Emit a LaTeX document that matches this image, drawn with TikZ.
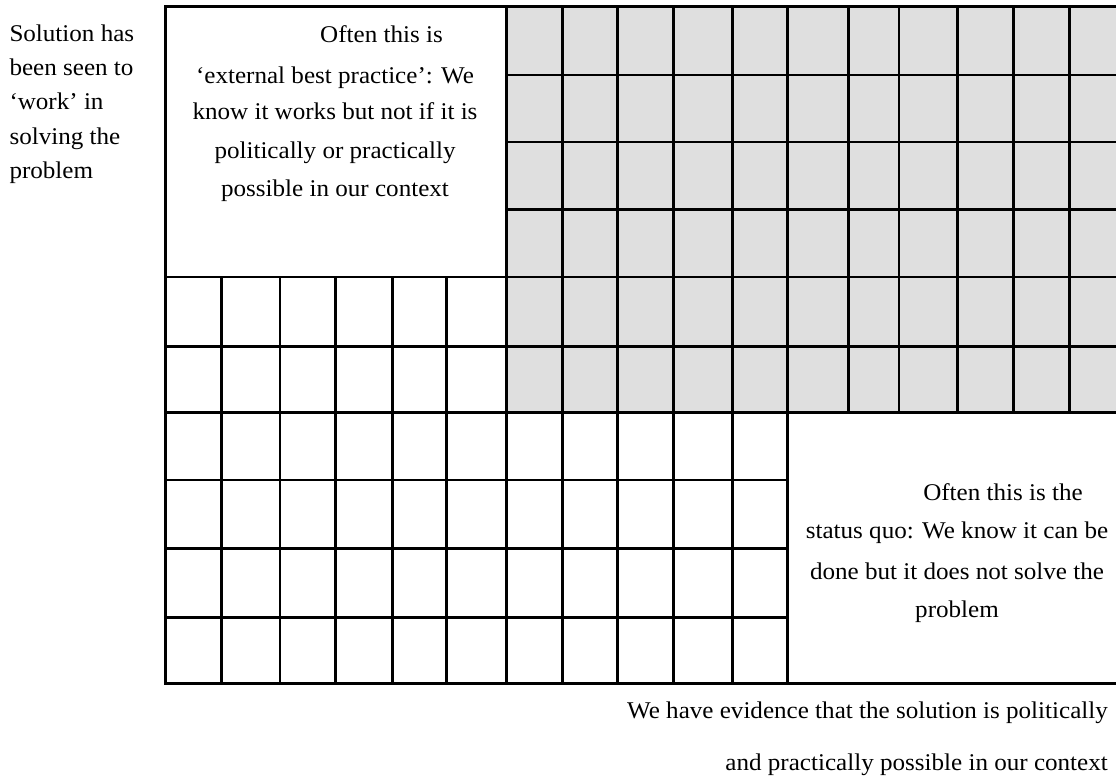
\documentclass[tikz,border=0pt]{standalone}
\usepackage{fontspec}
\setmainfont{Liberation Serif}[FakeStretch=1.045]
\definecolor{cellgray}{RGB}{223,223,223}
\begin{document}
\begin{tikzpicture}[x=1pt,y=-1pt,
  gridline/.style={line width=2.9pt, line cap=rect},
  txt/.style={inner sep=0pt, anchor=base, font=\fontsize{24}{28}\selectfont},
  ltxt/.style={txt, anchor=base west},
  rtxt/.style={txt, anchor=base east}]
\useasboundingbox (0,0) rectangle (1116,778);
% shaded region
\fill[cellgray] (506.5,6.7) rectangle (1120,412.3);
% horizontal lines
\draw[gridline] (165.7,6.7) -- (1120,6.7);
\foreach \y in {75,142,209.3} \draw[gridline] (506.5,\y) -- (1120,\y);
\foreach \y in {277,346.7,412.3,683.3} \draw[gridline] (165.7,\y) -- (1120,\y);
\foreach \y in {480,548.3,617.3} \draw[gridline] (165.7,\y) -- (787.5,\y);
% vertical lines
\foreach \x in {165.7,506.5,562.5,617.3,673.3,732.5,787.5} \draw[gridline] (\x,6.7) -- (\x,683.3);
\foreach \x in {221.7,280,335.7,392.3,446.7} \draw[gridline] (\x,277) -- (\x,683.3);
\foreach \x in {848.3,899,957.3,1013.3,1069.3} \draw[gridline] (\x,6.7) -- (\x,412.3);
% left axis label
\node[ltxt] (l1) at (9.3,41.7) {Solution has};
\node[ltxt] (l2) at (9.3,76) {been seen to};
\node[ltxt] (l3) at (9.3,110) {‘work’ in};
\node[ltxt] (l4) at (9.3,144.3) {solving the};
\node[ltxt] (l5) at (9.3,178.3) {problem};
% top-left box
\node[txt] (t1) at (381.5,42.7) {Often this is};
\node[txt] (t2) at (335,83.3) {‘external best practice’: We};
\node[txt] (t3) at (335,120) {know it works but not if it is};
\node[txt] (t4) at (335,158.3) {politically or practically};
\node[txt] (t5) at (335,196.7) {possible in our context};
% bottom-right box
\node[txt] (r1) at (1003,500) {Often this is the};
\node[txt] (r2) at (957,538.3) {status quo: We know it can be};
\node[txt] (r3) at (957,579.3) {done but it does not solve the};
\node[txt] (r4) at (957,617.3) {problem};
% bottom axis label
\node[rtxt] (b1) at (1108,718.3) {We have evidence that the solution is politically};
\node[rtxt] (b2) at (1108,770) {and practically possible in our context};
\end{tikzpicture}
\end{document}
